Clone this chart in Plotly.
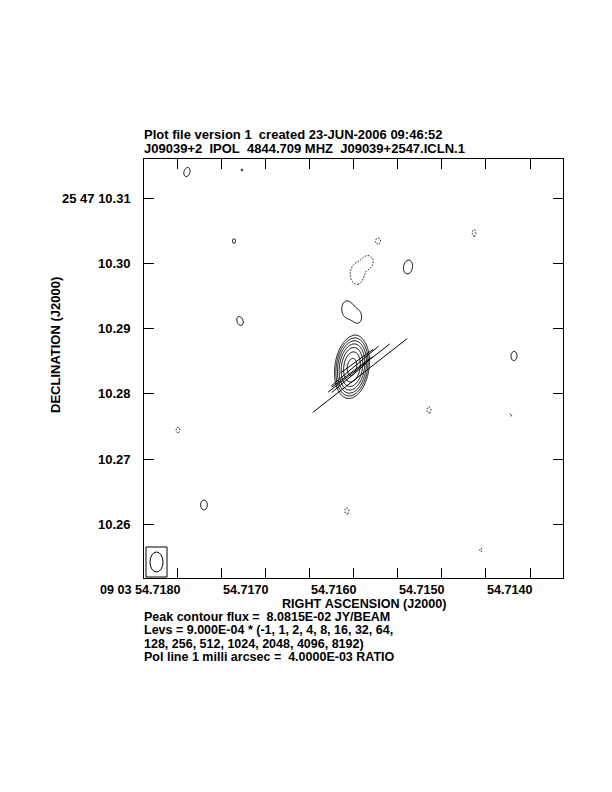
import numpy as np
import plotly.graph_objects as go

# ---------------- axes / labels ----------------
ra_range = [54.718386, 54.713625]          # RA seconds (09 03 ..), reversed (east left)
dec_range = [10.25176, 10.31603]           # Dec arcsec (25 47 ..)
ra_ticks = [54.7180, 54.7170, 54.7160, 54.7150, 54.7140]
ra_tick_labels = ["09 03 54.7180", "54.7170", "54.7160", "54.7150", "54.7140"]
dec_ticks = [10.31, 10.30, 10.29, 10.28, 10.27, 10.26]
dec_tick_labels = ["25 47 10.31", "10.30", "10.29", "10.28", "10.27", "10.26"]
header_lines = ["Plot file version 1  created 23-JUN-2006 09:46:52",
                "J09039+2  IPOL  4844.709 MHZ  J09039+2547.ICLN.1"]
footer_lines = ["Peak contour flux =  8.0815E-02 JY/BEAM",
                "Levs = 9.000E-04 * (-1, 1, 2, 4, 8, 16, 32, 64,",
                "128, 256, 512, 1024, 2048, 4096, 8192)",
                "Pol line 1 milli arcsec =  4.0000E-03 RATIO"]
x_title = "RIGHT ASCENSION (J2000)"
y_title = "DECLINATION (J2000)"

# ---------------- contour levels ----------------
lev_base = 9.000e-4
lev_mults = [-1, 1, 2, 4, 8, 16, 32, 64, 128, 256, 512, 1024, 2048, 4096, 8192]

# ---------------- image components (Gaussian model of the map) ----------------
comp_ra = [54.716023, 54.717898, 54.717273, 54.717364, 54.717295, 54.715727,
           54.714636, 54.715386, 54.715966, 54.715841, 54.716080, 54.715955,
           54.714182, 54.715148, 54.714216, 54.718000, 54.717705, 54.716080,
           54.714557]
comp_dec = [10.284126, 10.314034, 10.314340, 10.303451, 10.291181, 10.303451,
            10.304678, 10.299463, 10.298390, 10.300230, 10.293021, 10.291794,
            10.285813, 10.277531, 10.276764, 10.274463, 10.262960, 10.262040,
            10.256058]
comp_amp = [0.080815, 1.044e-3, 9.08e-4, 9.34e-4, 1.044e-3, -9.97e-4,
            -9.63e-4, 1.26e-3, -1.90e-3, -1.40e-3, 1.40e-3, 1.10e-3,
            1.044e-3, -9.63e-4, -9.1e-4, -9.5e-4, 1.062e-3, -9.63e-4,
            -9.2e-4]
comp_sig_min = [0.874, 0.84, 0.84, 0.84, 0.84, 0.84, 0.75, 0.84, 0.84, 0.84,
                0.84, 0.84, 0.84, 0.84, 0.84, 0.84, 0.9, 0.84, 0.84]   # mas
comp_sig_maj = [1.62, 1.30, 1.30, 1.30, 1.30, 1.0, 1.40, 1.30, 1.30, 1.00,
                1.30, 1.30, 1.30, 1.30, 1.30, 1.30, 1.30, 1.30, 1.30]  # mas
comp_pa = [-8, -15, 0, 0, 20, 0, 0, -10, 0, 0, 0, 0, -5, 0, 0, 0, 0, 0, 0]

# ---------------- polarisation vectors ----------------
pol_ra = [54.7159318, 54.7159432, 54.7159886, 54.7160227, 54.7160568, 54.7159659]
pol_dec = [10.282822, 10.283972, 10.284279, 10.283359, 10.282439, 10.285046]
pol_frac = [0.0736, 0.048, 0.038, 0.031, 0.0276, 0.0245]
pol_pa = [-52, -52, -50, -53, -50, -54]
pol_scale = 4.0e-3   # ratio per milli-arcsec

# ---------------- beam ----------------
beam_maj = 3.07   # mas (FWHM)
beam_min = 2.0
dec_deg = 25 + 47 / 60 + 10.28 / 3600
mas_per_s = 15000.0 * np.cos(np.radians(dec_deg))

# ---------------- build map ----------------
N = 620
gx = np.linspace(min(ra_range), max(ra_range), N)
gy = np.linspace(dec_range[0], dec_range[1], N)
X, Y = np.meshgrid(gx, gy)
field = np.zeros_like(X)
for ra, dec, a, smin, smaj, pa in zip(comp_ra, comp_dec, comp_amp,
                                      comp_sig_min, comp_sig_maj, comp_pa):
    de = (X - ra) * mas_per_s          # east offset, mas
    dn = (Y - dec) * 1000.0            # north offset, mas
    p = np.radians(pa)
    u = dn * np.cos(p) + de * np.sin(p)
    v = -dn * np.sin(p) + de * np.cos(p)
    field += a * np.exp(-0.5 * ((u / smaj) ** 2 + (v / smin) ** 2))

pos_levels = [m for m in lev_mults if m > 0]
z_pos = np.log2(np.clip(field, 1e-12, None) / lev_base).astype(np.float32)
z_neg = (-field).astype(np.float32)

fig = go.Figure()
fig.add_trace(go.Contour(
    x=gx, y=gy, z=z_pos, showscale=False, hoverinfo="skip",
    contours=dict(coloring="lines", start=0, end=np.log2(max(pos_levels)), size=1),
    line=dict(color="black", width=1, smoothing=1.0),
    colorscale=[[0, "black"], [1, "black"]]))
fig.add_trace(go.Contour(
    x=gx, y=gy, z=z_neg, showscale=False, hoverinfo="skip",
    contours=dict(coloring="lines", start=lev_base, end=lev_base * 1.5, size=lev_base),
    line=dict(color="#222222", width=1, dash="1.5px,1.5px", smoothing=1.0),
    colorscale=[[0, "black"], [1, "black"]]))

# pol lines
px, py = [], []
for ra, dec, f, pa in zip(pol_ra, pol_dec, pol_frac, pol_pa):
    L = f / pol_scale / 2.0              # half length, mas
    p = np.radians(pa)
    dE = L * np.sin(p) / mas_per_s
    dN = L * np.cos(p) / 1000.0
    px += [ra + dE, ra - dE, None]
    py += [dec + dN, dec - dN, None]
fig.add_trace(go.Scatter(x=px, y=py, mode="lines", hoverinfo="skip",
                         line=dict(color="black", width=1), showlegend=False))

# beam box + ellipse (lower left)
pix_s = (ra_range[0] - ra_range[1]) / 419.0
pix_a = (dec_range[1] - dec_range[0]) / 419.0
bw = beam_min / mas_per_s
bh = beam_maj / 1000.0
bcx = ra_range[0] - 12.5 * pix_s
bcy = dec_range[0] + 16 * pix_a
shapes = [
    dict(type="rect", xref="x", yref="y",
         x0=ra_range[0] - 2 * pix_s, x1=ra_range[0] - 23 * pix_s,
         y0=dec_range[0] + 1 * pix_a, y1=dec_range[0] + 31 * pix_a,
         line=dict(color="black", width=1)),
    dict(type="circle", xref="x", yref="y",
         x0=bcx - bw / 2, x1=bcx + bw / 2, y0=bcy - bh / 2, y1=bcy + bh / 2,
         line=dict(color="black", width=1)),
]

FONT = dict(family="Liberation Sans, Arial, sans-serif", size=13, color="black", weight="bold")
nb = lambda s: s.replace(" ", "\u00a0")
ann = []
for v, t in zip(ra_ticks, ra_tick_labels):
    ann.append(dict(x=v, y=0, xref="x", yref="paper", text=nb(t), showarrow=False,
                    xanchor="right", yanchor="middle", xshift=4, yshift=-11.5,
                    font=dict(FONT, size=12.6), borderpad=0))
for v, t in zip(dec_ticks, dec_tick_labels):
    ann.append(dict(x=0, y=v, xref="paper", yref="y", text=nb(t), showarrow=False,
                    xanchor="right", yanchor="middle", xshift=-12, font=FONT, borderpad=0))
hy = [134, 149]
for yy, t in zip(hy, header_lines):
    ann.append(dict(x=0, y=(578 - yy) / 419.0, xref="paper", yref="paper", text=nb(t),
                    showarrow=False, xanchor="left", yanchor="middle", xshift=-1, font=FONT,
                    borderpad=0))
fy = [616.5, 630, 643.5, 657]
for yy, t in zip(fy, footer_lines):
    ann.append(dict(x=0, y=(578 - yy) / 419.0, xref="paper", yref="paper", text=nb(t),
                    showarrow=False, xanchor="left", yanchor="middle", xshift=-1,
                    font=dict(FONT, size=12.5), borderpad=0))
ann.append(dict(x=(363.5 - 144) / 419.0, y=(578 - 604) / 419.0, xref="paper", yref="paper",
                text=nb(x_title), showarrow=False, xanchor="center", yanchor="middle",
                font=dict(FONT, size=12.6), borderpad=0))
ann.append(dict(x=(55 - 144) / 419.0, y=(578 - 345) / 419.0, xref="paper", yref="paper",
                text=nb(y_title), showarrow=False, textangle=-90,
                xanchor="center", yanchor="middle", font=FONT, borderpad=0))

axis_common = dict(showgrid=False, zeroline=False, showline=True, linecolor="black",
                   linewidth=1, ticks="inside", ticklen=10, tickcolor="black",
                   tickwidth=1, mirror="ticks", showticklabels=False)
# page body adds an 8px offset, so margins are reduced by 8px on left/top
fig.update_layout(
    width=604, height=784, autosize=False,
    margin=dict(l=136, r=49, t=151, b=214, pad=0),
    paper_bgcolor="white", plot_bgcolor="white",
    showlegend=False,
    xaxis=dict(range=ra_range, tick0=54.7180, dtick=0.0005, **axis_common),
    yaxis=dict(range=dec_range, tick0=10.26, dtick=0.01, **axis_common),
    shapes=shapes, annotations=ann,
)
fig.write_html("out.html")
